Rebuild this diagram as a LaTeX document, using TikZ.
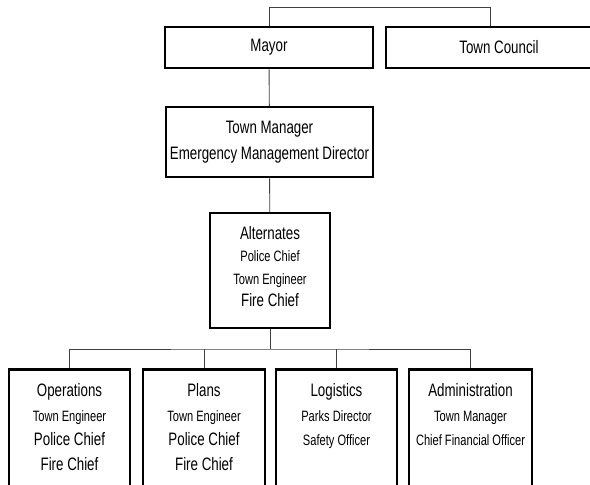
\documentclass[tikz,border=0pt]{standalone}
\usepackage{fontspec}
\setmainfont{Liberation Sans}[FakeStretch=0.74]
\usepackage{tikz}
\usetikzlibrary{backgrounds}

\newcommand{\bigtxt}{\fontsize{18}{24.5}\selectfont}
\newcommand{\smalltxt}{\fontsize{15}{22}\selectfont}

\tikzset{
	box/.style={draw=black, line width=2.5pt, fill=white, inner sep=0pt, font=\bigtxt, align=center},
	section/.style={box, anchor=north, minimum height=140pt},
	sectiontext/.style={font=\bigtxt, align=center, anchor=north},
	link/.style={draw=black!75, line width=0.9pt}
}

\begin{document}
\begin{tikzpicture}[x=1pt, y=-1pt]
			\useasboundingbox (0,0) rectangle (590,485);
			\clip (0,0) rectangle (590,485);
			
			% top row
			\node[box, minimum width=208pt, minimum height=41pt] (mayor) at (269,47.5) {Mayor};
			\node[box, minimum width=226pt, minimum height=41pt] (council) at (499,47.5) {Town Council};
			
			\node[box, minimum width=207pt, minimum height=70pt] (manager) at (269.5,142)
			{Town Manager\\[2pt]Emergency Management Director};
			
			\node[box, minimum width=120pt, minimum height=115pt] (alternates) at (270,270.5)
			{Alternates\\[-2pt]{\smalltxt Police Chief}\\[-2pt]{\smalltxt Town Engineer}\\[-2pt]Fire Chief\\[-16pt]\mbox{}};
			
			% sections, cut off at the bottom
			\node[section, minimum width=121pt] (ops) at (69.5,368) {};
			\node[section, minimum width=122pt] (plans) at (204,368) {};
			\node[section, minimum width=121pt] (logistics) at (336.5,368) {};
			\node[section, minimum width=123pt] (admin) at (470.5,368) {};
			
			\node[sectiontext] at ([yshift=-12pt]ops.north)
			{Operations\\{\smalltxt Town Engineer}\\Police Chief\\Fire Chief};
			\node[sectiontext] at ([yshift=-12pt]plans.north)
			{Plans\\{\smalltxt Town Engineer}\\Police Chief\\Fire Chief};
			\node[sectiontext] at ([yshift=-12pt]logistics.north)
			{Logistics\\{\smalltxt Parks Director}\\{\smalltxt Safety Officer}};
			\node[sectiontext] at ([yshift=-12pt]admin.north)
			{Administration\\{\smalltxt Town Manager}\\{\smalltxt Chief Financial Officer}};
			
			% connectors
			\begin{scope}[on background layer]
			\coordinate (bus) at (270,349);
			\draw[link] (mayor.north) |- (490,7) -- ([xshift=-9pt]council.north);
			\draw[link] (mayor) -- (manager);
			\draw[link] (manager) -- (alternates);
			\draw[link] (alternates.south) -- (bus);
			\draw[link] (ops.north) |- (bus) -| (admin.north);
			\draw[link] (plans.north) -- (plans.north |- bus);
			\draw[link] (logistics.north) -- (logistics.north |- bus);
			\end{scope}
			\end{tikzpicture}
\end{document}
